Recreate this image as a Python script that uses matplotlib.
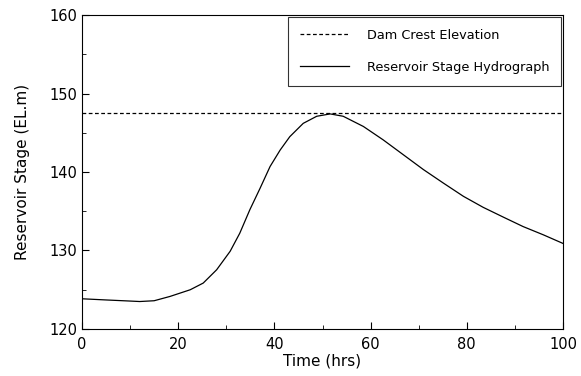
import numpy as np
import matplotlib
matplotlib.use('Agg')
from matplotlib import pyplot as plt
from matplotlib.ticker import MultipleLocator

# values
time_hrs = [0, 5, 10, 12, 15, 18.3, 22.5, 25.2, 28.0, 30.8, 32.8, 34.9, 37.0, 39.1, 41.2, 43.2,
            46.0, 48.8, 51.6, 54.3, 58.5, 62.6, 66.8, 71.0, 75.1, 79.3, 83.4, 87.6, 91.7, 95.9, 100]
stage = [123.85, 123.7, 123.56, 123.5, 123.6, 124.15, 125.0, 125.85, 127.55, 129.9, 132.2, 135.2,
         137.9, 140.7, 142.8, 144.5, 146.2, 147.1, 147.4, 147.1, 145.8, 144.1, 142.2, 140.3,
         138.6, 136.9, 135.5, 134.25, 133.05, 132.0, 130.9]
crest = 147.5

plt.rcParams['font.family'] = ['DejaVu Sans']

fig = plt.figure(figsize=(5.81, 3.76), dpi=100)
ax = fig.add_axes([82/581, 1 - 329/376, (563-82)/581, (329-15)/376])

ax.axhline(crest, color='k', ls=(0, (3, 2)), lw=0.9, label='Dam Crest Elevation')
ax.plot(time_hrs, stage, color='k', lw=0.9, label='Reservoir Stage Hydrograph')

ax.set_xlim(0, 100)
ax.set_ylim(120, 160)
ax.xaxis.set_major_locator(MultipleLocator(20))
ax.xaxis.set_minor_locator(MultipleLocator(10))
ax.yaxis.set_major_locator(MultipleLocator(10))
ax.yaxis.set_minor_locator(MultipleLocator(5))
ax.tick_params(which='both', direction='in', labelsize=10.5, top=False, right=False)
ax.tick_params(which='major', length=5)
ax.tick_params(which='minor', length=3)
ax.tick_params(axis='x', pad=6)

ax.set_xlabel('Time (hrs)', fontsize=11, labelpad=1)
ax.set_ylabel('Reservoir Stage (EL.m)', fontsize=11, labelpad=14)

leg = ax.legend(loc='upper right', fontsize=9.3, frameon=True, fancybox=False,
                borderaxespad=0.15, handlelength=3.8, handletextpad=1.4, labelspacing=1.5,
                borderpad=0.9)
leg.get_frame().set_edgecolor('k')
leg.get_frame().set_linewidth(0.8)

fig.savefig('out.png', dpi=100)
